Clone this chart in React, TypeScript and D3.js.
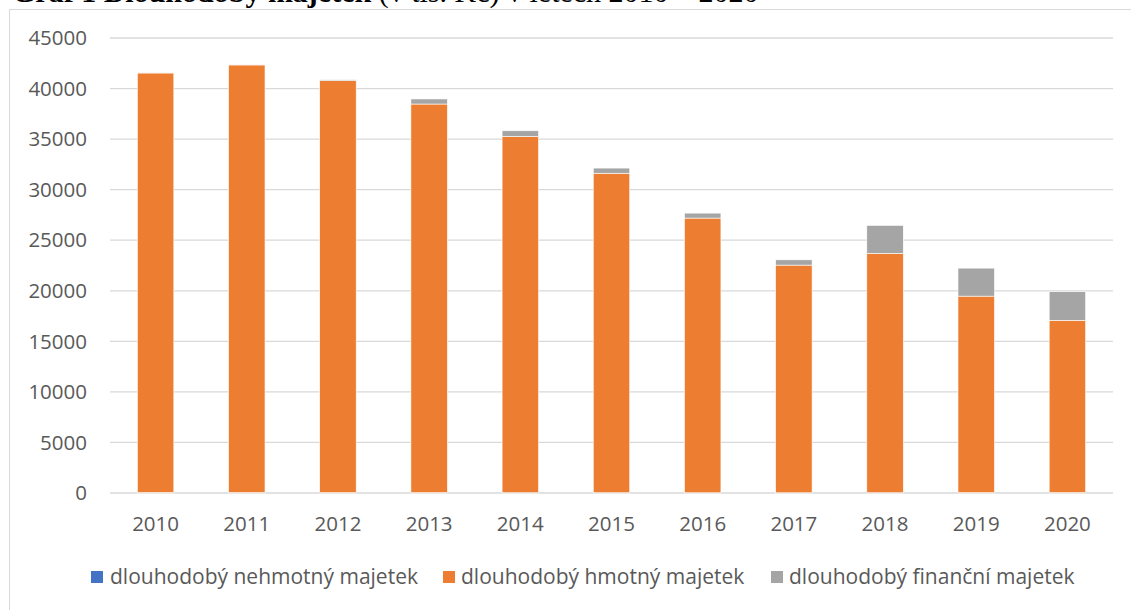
import React from "react";
import * as d3 from "d3";

const years = ["2010", "2011", "2012", "2013", "2014", "2015", "2016", "2017", "2018", "2019", "2020"];
const nehmotny = [40, 35, 30, 30, 25, 25, 20, 20, 25, 30, 30];
const hmotny = [41500, 42300, 40750, 38440, 35240, 31600, 27170, 22520, 23670, 19440, 17050];
const financni = [10, 10, 90, 500, 560, 510, 490, 520, 2770, 2770, 2830];
const seriesNames = ["dlouhodobý nehmotný majetek", "dlouhodobý hmotný majetek", "dlouhodobý finanční majetek"];
const seriesColors = ["#4472C4", "#ED7D31", "#A5A5A5"];
const yTicks = [0, 5000, 10000, 15000, 20000, 25000, 30000, 35000, 40000, 45000];

const FONT = "'Open Sans', sans-serif";

export default function App() {
  const W = 1131, H = 610;
  const x = d3.scaleBand<string>().domain(years).range([110, 1113]).paddingInner(0.6).paddingOuter(0.3);
  const y = d3.scaleLinear().domain([0, 45000]).range([493, 38]);
  const rows = years.map((yr, i) => ({ year: yr, a: nehmotny[i], b: hmotny[i], c: financni[i] }));
  const stack = d3.stack<any>().keys(["a", "b", "c"])(rows);

  const legendItems = [
    { sq: 91, tx: 110 },
    { sq: 443, tx: 461 },
    { sq: 771, tx: 789 },
  ];

  return (
    <svg width={W} height={H} style={{ position: "absolute", left: 0, top: 0 }} fontFamily={FONT}>
      <rect x={0} y={0} width={W} height={H} fill="#fff" />
      <text x={12} y={2} fontFamily="'Liberation Serif', serif" fontSize={30} fill="#000">
        <tspan fontWeight="bold">Graf 1 Dlouhodobý majetek</tspan>
        <tspan> (v tis. Kč) v letech 2010 – 2020</tspan>
      </text>
      <rect x={9.5} y={9.5} width={W} height={H} fill="none" stroke="#d9d9d9" strokeWidth={1} />
      {yTicks.map((t) => (
        <g key={t}>
          <line x1={110} x2={1113} y1={y(t)} y2={y(t)} stroke="#d9d9d9" strokeWidth={1.3} />
          <text x={87} y={y(t)} dy="0.35em" textAnchor="end" fontSize={20.5} fill="#595959">
            {t}
          </text>
        </g>
      ))}
      {stack.map((s, si) => (
        <g key={si} fill={seriesColors[si]}>
          {s.map((d: any, i: number) => (
            <rect
              key={i}
              x={x(years[i])}
              y={y(d[1])}
              width={x.bandwidth()}
              height={Math.max(0, y(d[0]) - y(d[1]))}
              stroke="#fff"
              strokeWidth={0.6}
            />
          ))}
        </g>
      ))}
      {years.map((yr) => (
        <text key={yr} x={(x(yr) as number) + x.bandwidth() / 2} y={524} dy="0.35em" textAnchor="middle" fontSize={20.5} fill="#595959">
          {yr}
        </text>
      ))}
      {seriesNames.map((n, i) => (
        <g key={n}>
          <rect x={legendItems[i].sq} y={571} width={12} height={12} fill={seriesColors[i]} />
          <text x={legendItems[i].tx} y={577} dy="0.35em" fontSize={21} fill="#595959">
            {n}
          </text>
        </g>
      ))}
    </svg>
  );
}
